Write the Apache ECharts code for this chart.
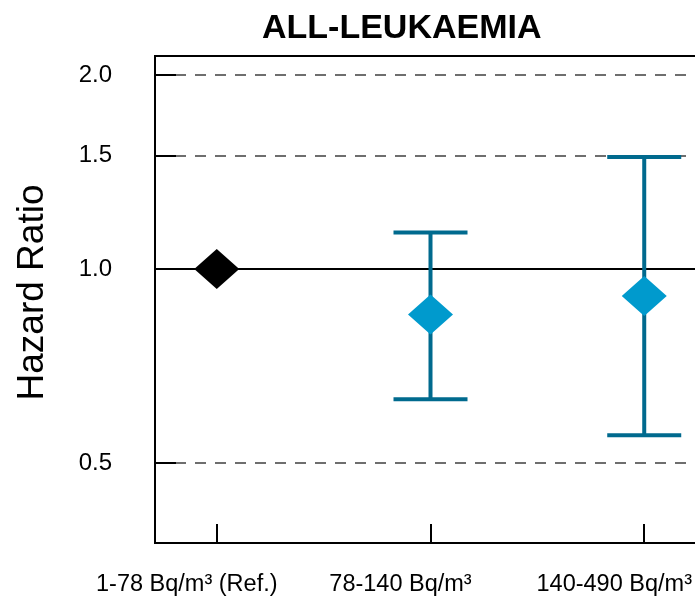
<!DOCTYPE html>
<html><head><meta charset="utf-8">
<script src="https://cdn.jsdelivr.net/npm/echarts@6/dist/echarts.min.js"></script>
<style>html,body{margin:0;padding:0;overflow:hidden;background:#fff}#c{width:760px;height:597px}</style>
</head><body><div id="c"></div>
<script>
const categories = ['1-78 Bq/m³ (Ref.)', '78-140 Bq/m³', '140-490 Bq/m³'];
const positions = [1, 2, 3];
const hazardRatio = [1.0, 0.85, 0.908];
const ciLower = [null, 0.628, 0.552];
const ciUpper = [null, 1.139, 1.492];
const yTicks = [0.5, 1.0, 1.5, 2.0];
const yTickLabels = ['0.5', '1.0', '1.5', '2.0'];
const dashedLines = [0.5, 1.5, 2.0];
const referenceLine = 1.0;

const FONT = 'Liberation Sans, Arial, sans-serif';
const chart = echarts.init(document.getElementById('c'));

const pointData = positions.map((p, i) => ({
  value: [p, hazardRatio[i]],
  itemStyle: { color: ciLower[i] == null ? '#000000' : '#009ACD', opacity: 1 }
}));
const ciData = [];
positions.forEach((p, i) => { if (ciLower[i] != null) ciData.push([p, ciLower[i], ciUpper[i]]); });

chart.setOption({
  animation: false,
  title: {
    text: 'ALL-LEUKAEMIA', left: 257, top: 7,
    textStyle: { fontFamily: FONT, fontSize: 34, fontWeight: 'bold', color: '#000' }
  },
  grid: { left: 155, top: 56, right: 54, bottom: 54, show: true, borderColor: '#000', borderWidth: 2, backgroundColor: 'transparent' },
  xAxis: {
    type: 'value', min: 0.711, max: 3.289, z: 6,
    splitLine: { show: false },
    axisLine: { lineStyle: { color: '#000', width: 2 } },
    axisTick: { customValues: positions, inside: true, length: 19, lineStyle: { color: '#000', width: 2 } },
    axisLabel: {
      customValues: positions,
      formatter: v => categories[positions.indexOf(v)],
      margin: 30, fontSize: 23.5, fontFamily: FONT, color: '#000', padding: [0, 60, 0, 0]
    }
  },
  yAxis: {
    type: 'log', min: 0.3758, max: 2.14, logBase: 10, z: 6,
    splitLine: { show: false },
    axisLine: { lineStyle: { color: '#000', width: 2 } },
    axisTick: { customValues: yTicks, inside: true, length: 21, lineStyle: { color: '#000', width: 2 } },
    axisLabel: {
      customValues: yTicks,
      formatter: v => yTickLabels[yTicks.indexOf(v)] || String(v),
      margin: 43, fontSize: 24, fontFamily: FONT, color: '#000'
    },
    name: 'Hazard Ratio', nameLocation: 'middle', nameGap: 104,
    nameTextStyle: { fontSize: 37, fontFamily: FONT, color: '#000', padding: [0, 0, 0, 14] }
  },
  series: [
    {
      type: 'line', data: [], z: 1, silent: true,
      markLine: {
        z: 1, silent: true, symbol: 'none', label: { show: false },
        data: dashedLines.map(v => ({ yAxis: v, lineStyle: { type: [11, 9], color: '#6e6e6e', width: 2 } }))
          .concat([{ yAxis: referenceLine, lineStyle: { type: 'solid', color: '#000', width: 2 } }])
      }
    },
    {
      type: 'custom', z: 3, data: ciData,
      renderItem: function (params, api) {
        const x = api.value(0), lo = api.value(1), hi = api.value(2);
        const pLo = api.coord([x, lo]), pHi = api.coord([x, hi]);
        const hw = 37;
        const style = { stroke: '#006A8E', lineWidth: 4 };
        return {
          type: 'group', children: [
            { type: 'line', shape: { x1: pLo[0], y1: pLo[1], x2: pHi[0], y2: pHi[1] }, style: style },
            { type: 'line', shape: { x1: pLo[0] - hw, y1: pLo[1], x2: pLo[0] + hw, y2: pLo[1] }, style: style },
            { type: 'line', shape: { x1: pHi[0] - hw, y1: pHi[1], x2: pHi[0] + hw, y2: pHi[1] }, style: style }
          ]
        };
      }
    },
    {
      type: 'scatter', z: 4, symbol: 'diamond', symbolSize: [45, 40], data: pointData,
      itemStyle: { opacity: 1 }
    }
  ]
});
</script>
</body></html>
